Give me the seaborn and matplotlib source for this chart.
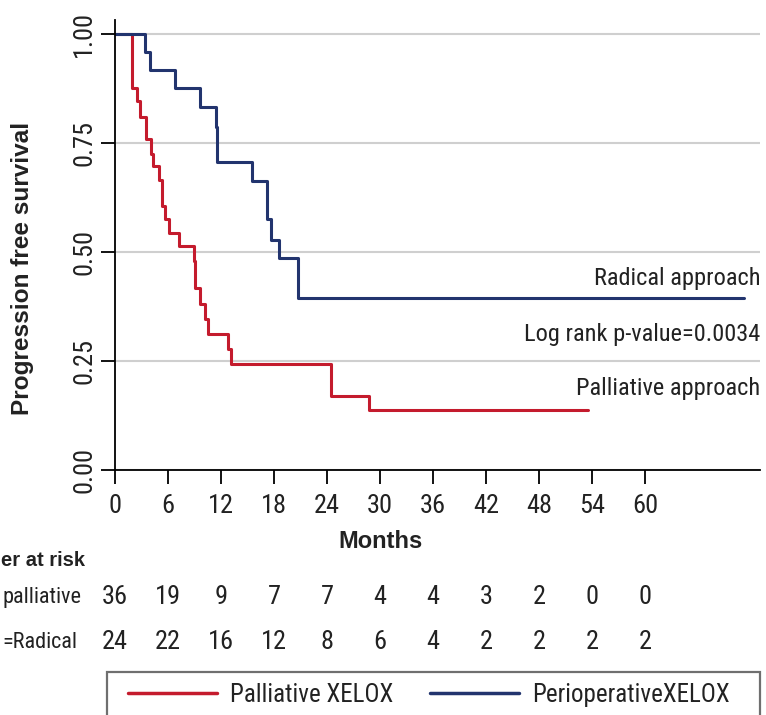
import numpy as np
import pandas as pd
import matplotlib
matplotlib.use("Agg")
import matplotlib.pyplot as plt
from matplotlib import font_manager as fm
from matplotlib.lines import Line2D
from matplotlib.patches import Rectangle
from matplotlib.transforms import blended_transform_factory
import seaborn as sns

# ---------------- data ----------------
palliative_time = [0, 1.9, 1.95, 2.45, 2.85, 3.5, 4.05, 4.35, 5.0, 5.3, 5.7, 6.1, 7.25,
                   8.9, 9.1, 9.6, 10.2, 10.5, 12.8, 13.1, 24.5, 28.7, 53.5]
palliative_surv = [1.0, 0.94, 0.875, 0.846, 0.81, 0.759, 0.725, 0.697, 0.665, 0.606, 0.575,
                   0.544, 0.514, 0.479, 0.418, 0.381, 0.346, 0.311, 0.278, 0.244, 0.170,
                   0.138, 0.138]
radical_time = [0, 3.4, 4.0, 6.8, 9.6, 11.45, 11.6, 15.5, 17.25, 17.6, 18.6, 20.75, 71.2]
radical_surv = [1.0, 0.958, 0.917, 0.875, 0.833, 0.787, 0.706, 0.662, 0.575, 0.528,
                0.486, 0.395, 0.395]

group_labels = ["Palliative XELOX", "PerioperativeXELOX"]
risk_times = [0, 6, 12, 18, 24, 30, 36, 42, 48, 54, 60]
risk_palliative = [36, 19, 9, 7, 7, 4, 4, 3, 2, 0, 0]
risk_radical = [24, 22, 16, 12, 8, 6, 4, 2, 2, 2, 2]
risk_title = "er at risk"
risk_row_labels = ["palliative", "=Radical"]
y_ticks = [0.0, 0.25, 0.50, 0.75, 1.00]
y_tick_labels = ["0.00", "0.25", "0.50", "0.75", "1.00"]

# ---------------- fonts ----------------
sns.set_style("white")
avail = {f.name for f in fm.fontManager.ttflist}
def pick(names, default="DejaVu Sans"):
    for n in names:
        if n in avail:
            return n
    return default
COND = pick(["Roboto Condensed", "Liberation Sans Narrow", "Arial Narrow",
             "Open Sans Condensed", "Noto Sans Condensed", "DejaVu Sans"])
BOLD = pick(["Liberation Sans", "Arial", "DejaVu Sans"])
plt.rcParams["font.family"] = [COND, "DejaVu Sans"]

RED = "#C41B2D"
BLUE = "#22346E"
TXT = "#222222"
FS_TXT = 17.6
FS_NUM = 19
FS_LEG = 18

df = pd.concat([
    pd.DataFrame({"time": palliative_time, "surv": palliative_surv, "group": group_labels[0]}),
    pd.DataFrame({"time": radical_time, "surv": radical_surv, "group": group_labels[1]}),
], ignore_index=True)

W, H = 766, 715
fig = plt.figure(figsize=(W / 100, H / 100), dpi=100)
ax = fig.add_axes([115 / W, 1 - 470 / H, (760 - 115) / W, (470 - 20) / H])

sns.lineplot(data=df, x="time", y="surv", hue="group", palette=[RED, BLUE],
             estimator=None, sort=False, drawstyle="steps-post", linewidth=2.2,
             legend=False, ax=ax)

ax.set_xlim(0, 73)
ax.set_ylim(0, 1.032)
ax.set_xticks(risk_times)
ax.set_xticklabels([str(t) for t in risk_times])
ax.set_yticks(y_ticks)
ax.set_yticklabels(y_tick_labels, rotation=90, va="center")
ax.set_xlabel("")
ax.set_ylabel("")
for s in ["top", "right"]:
    ax.spines[s].set_visible(False)
for s in ["left", "bottom"]:
    ax.spines[s].set_color("black")
    ax.spines[s].set_linewidth(1.3)
ax.grid(axis="y", color="#cfcfcf", linewidth=1.5)
ax.grid(axis="x", visible=False)
ax.set_axisbelow(True)
ax.tick_params(axis="x", length=10, width=1.3, pad=7, labelsize=FS_NUM, color="black",
               labelcolor=TXT, bottom=True)
ax.tick_params(axis="y", length=10, width=1.3, pad=3.5, labelsize=FS_NUM, color="black",
               labelcolor=TXT, left=True)

ax.text(73, 0.440, "Radical approach", ha="right", va="center", fontsize=FS_TXT, color=TXT)
ax.text(73, 0.310, "Log rank p-value=0.0034", ha="right", va="center", fontsize=FS_TXT, color=TXT)
ax.text(73, 0.188, "Palliative approach", ha="right", va="center", fontsize=FS_TXT, color=TXT)

fig.text(23 / W, 1 - 268 / H, "Progression free survival", rotation=90, ha="center",
         va="center", fontsize=17.6, fontweight="bold", family=BOLD, color=TXT)
fig.text(380 / W, 1 - 541 / H, "Months", ha="center", va="center", fontsize=17,
         fontweight="bold", family=BOLD, color=TXT)
fig.text(1.5 / W, 1 - 561 / H, risk_title, ha="left", va="center", fontsize=14.5,
         fontweight="bold", family=BOLD, color=TXT)
fig.text(2 / W, 1 - 597 / H, risk_row_labels[0], ha="left", va="center", fontsize=16,
         color=TXT)
fig.text(2 / W, 1 - 642 / H, risk_row_labels[1], ha="left", va="center", fontsize=16,
         color=TXT)

tr = blended_transform_factory(ax.transData, fig.transFigure)
for t, a, b in zip(risk_times, risk_palliative, risk_radical):
    ax.text(t, 1 - 597 / H, str(a), transform=tr, ha="center", va="center", fontsize=FS_NUM,
            color=TXT, clip_on=False)
    ax.text(t, 1 - 642 / H, str(b), transform=tr, ha="center", va="center", fontsize=FS_NUM,
            color=TXT, clip_on=False)

# legend frame (runs past the bottom edge, as in the reference)
fig.patches.append(Rectangle((107 / W, -0.05), (760 - 107) / W, (1 - 672 / H) + 0.05,
                             transform=fig.transFigure, fill=False, edgecolor="#6f6f6f",
                             linewidth=1.6))
handles = [Line2D([], [], color=RED, linewidth=2.5), Line2D([], [], color=BLUE, linewidth=2.5)]
leg = fig.legend(handles, group_labels, loc="upper left",
                 bbox_to_anchor=(128 / W, 1 - 683 / H), bbox_transform=fig.transFigure,
                 ncol=2, fontsize=FS_LEG, frameon=False, borderaxespad=0, borderpad=0,
                 handlelength=3.56, handletextpad=0.52, columnspacing=1.48)
for txt in leg.get_texts():
    txt.set_color(TXT)

fig.savefig("out.png", dpi=100)
